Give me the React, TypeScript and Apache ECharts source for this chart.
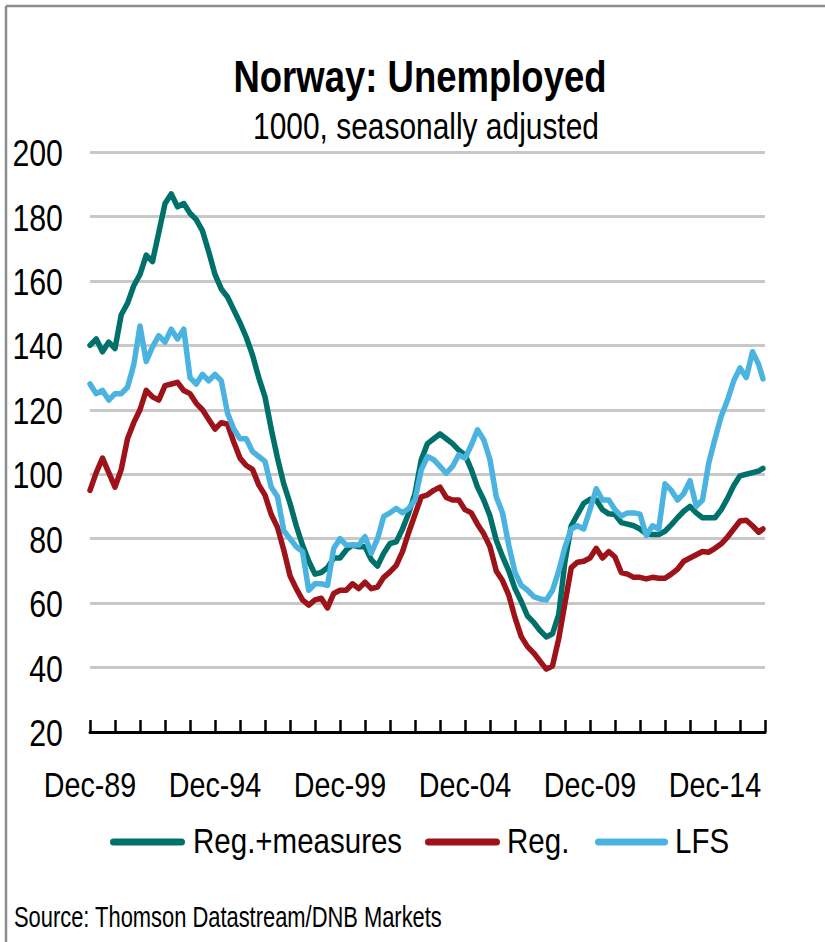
import React, { useEffect, useRef } from "react";
import * as echarts from "echarts";

// Month offsets from Dec-1989
const MONTHS = [
  0, 3, 6, 9, 12, 15, 18, 21, 24, 27, 30, 33,
  36, 39, 42, 45, 48, 51, 54, 57, 60, 63, 66, 69,
  72, 75, 78, 81, 84, 87, 90, 93, 96, 99, 102, 105,
  108, 111, 114, 117, 120, 123, 126, 129, 132, 135, 138, 141,
  144, 147, 150, 153, 156, 159, 162, 165, 168, 171, 174, 177,
  180, 183, 186, 189, 192, 195, 198, 201, 204, 207, 210, 213,
  216, 219, 222, 225, 228, 231, 234, 237, 240, 243, 246, 249,
  252, 255, 258, 261, 264, 267, 270, 273, 276, 279, 282, 285,
  288, 291, 294, 297, 300, 303, 306, 309, 312, 315, 318, 321,
  323,
];

const REG_MEASURES = [
  140, 142, 138, 141, 139, 149.5, 153, 158.5, 162, 168, 166, 175,
  184, 187, 183, 184, 181, 179, 175.5, 169, 162, 157.5, 155, 151,
  147, 142.5, 137, 130, 124, 114, 105, 97, 91, 84, 78, 73,
  69, 69.5, 71, 74, 74, 76.5, 78, 77.5, 77.5, 73.5, 71.5, 75.5,
  78.5, 79, 83, 88, 94, 104.5, 109.5, 111, 112.5, 111, 109.5, 107.5,
  106, 101.5, 96, 92, 87, 79.5, 74.5, 70, 64.5, 60.5, 56, 54,
  51.5, 49.5, 50.5, 56.5, 73, 84, 87.5, 91, 92.2, 92, 89, 87.7,
  87.5, 85, 84.5, 84, 83, 81.5, 81.3, 81.3, 82.3, 84.3, 86.5, 88.5,
  90, 88, 86.5, 86.5, 86.5, 89, 92.5, 96.5, 99.5, 100, 100.5, 101,
  101.8,
];

const REG = [
  95, 100.5, 105, 100.5, 96, 101.5, 111, 116, 120, 126, 124, 123,
  127.5, 128, 128.5, 126, 125, 122, 120, 117, 114, 116, 115.5, 110,
  105, 102.7, 101.5, 96.7, 93.5, 87.5, 83.5, 76.5, 68.5, 64.5, 61, 59.4,
  61, 61.5, 58.5, 63, 64, 64, 66, 64.5, 66.5, 64.5, 65, 68,
  69.7, 71.7, 76, 82, 87.5, 93, 93.6, 95, 96, 92.8, 92, 92,
  89, 88, 84.5, 81.5, 77.5, 70, 67, 62.5, 55.5, 49.6, 46.5, 44.5,
  42, 39.5, 40.5, 49, 60, 71, 72.7, 73, 74, 77, 74, 76,
  74.3, 69.5, 69, 68, 68, 67.5, 68, 67.7, 67.7, 69, 70.5, 73,
  74, 75, 76, 75.8, 77, 78.4, 80.5, 83, 85.5, 85.7, 84, 82,
  83,
];

const LFS = [
  128, 125, 126, 123, 125, 125, 127, 134, 146, 135, 139.5, 143,
  141, 145, 142, 145, 130, 128, 131, 129, 131, 129, 119, 114,
  111, 111, 107, 105.5, 104, 96, 93, 82.5, 80, 77.5, 76, 64,
  66, 66, 65.5, 77, 80, 78, 78, 78, 80.6, 75.5, 80, 86.9,
  88, 89.4, 88, 89.4, 92, 101.4, 105.5, 104.5, 102.4, 100.3, 102.4, 106,
  105, 109, 113.8, 110.7, 104.5, 93, 88, 78, 69.5, 65.5, 64, 62,
  61.3, 61, 64, 70, 77.4, 83, 84, 83, 89, 95.5, 92, 92,
  89, 87, 88, 88, 87.6, 81, 84, 83, 97, 95, 92, 94,
  98, 90, 92, 103.5, 111, 118, 123, 129, 133, 130, 138, 134,
  129.6,
];

const SERIES_NAMES = ["Reg.+measures", "Reg.", "LFS"];
const SERIES_COLORS = ["#00706a", "#9e1219", "#4ab3df"];
const Y_TICKS = [20, 40, 60, 80, 100, 120, 140, 160, 180, 200];
const X_LABEL_MONTHS = [0, 60, 120, 180, 240, 300];
const X_LABELS = ["Dec-89", "Dec-94", "Dec-99", "Dec-04", "Dec-09", "Dec-14"];
const TITLE = "Norway: Unemployed";
const SUBTITLE = "1000, seasonally adjusted";
const SOURCE = "Source: Thomson Datastream/DNB Markets";

const FONT = '"Liberation Sans", Arial, sans-serif';
const NARROW = 0.82;

function zip(vals: number[]) {
  return MONTHS.map((m, i) => [m, vals[i]]);
}

function txt(
  text: string,
  x: number,
  y: number,
  size: number,
  align: string,
  scaleX: number,
  bold = false
) {
  return {
    type: "text",
    x,
    y,
    scaleX,
    style: {
      text,
      fontSize: size,
      fontWeight: bold ? "bold" : "normal",
      fontFamily: FONT,
      fill: "#000",
      textAlign: align,
      textVerticalAlign: "middle",
    },
  };
}

export default function App() {
  const ref = useRef<HTMLDivElement>(null);

  useEffect(() => {
    if (!ref.current) return;
    const chart = echarts.init(ref.current, null, { renderer: "svg" });
    const all = [REG_MEASURES, REG, LFS];
    chart.setOption({
      animation: false,
      backgroundColor: "#ffffff",
      grid: { left: 90, right: 60, top: 152, bottom: 210, containLabel: false },
      xAxis: {
        type: "value",
        min: 0,
        max: 324,
        interval: 12,
        axisLine: { show: true, onZero: false, lineStyle: { color: "#000", width: 3 } },
        axisTick: { show: true, inside: true, length: 12, lineStyle: { color: "#000", width: 2.5 } },
        axisLabel: { show: false },
        splitLine: { show: false },
      },
      yAxis: {
        type: "value",
        min: 20,
        max: 200,
        interval: 20,
        axisLine: { show: false },
        axisTick: { show: false },
        axisLabel: { show: false },
        splitLine: { lineStyle: { color: "#c8c8c8", width: 3 } },
      },
      series: SERIES_NAMES.map((name, i) => ({
        name,
        type: "line",
        data: zip(all[i]),
        showSymbol: false,
        symbol: "none",
        color: SERIES_COLORS[i],
        lineStyle: { color: SERIES_COLORS[i], width: 5.5, cap: "round", join: "round" },
      })),
    });

    const graphics: any[] = [
      { type: "line", shape: { x1: 6, y1: 6, x2: 6, y2: 942 }, style: { stroke: "#8c8c8c", lineWidth: 2.5 } },
      { type: "line", shape: { x1: 6, y1: 6, x2: 825, y2: 6 }, style: { stroke: "#8c8c8c", lineWidth: 2.5 } },
      txt(TITLE, 420, 77, 44.5, "center", NARROW, true),
      txt(SUBTITLE, 426, 126, 36.5, "center", NARROW),
      txt(SOURCE, 14, 917, 30, "left", 0.73),
    ];

    Y_TICKS.forEach((v) => {
      const y = chart.convertToPixel({ yAxisIndex: 0 }, v) as number;
      graphics.push(txt(String(v), 63, y + 1, 37, "right", NARROW));
    });
    X_LABEL_MONTHS.forEach((m, i) => {
      const x = chart.convertToPixel({ xAxisIndex: 0 }, m) as number;
      graphics.push(txt(X_LABELS[i], x, 785, 35, "center", NARROW));
    });

    // legend
    const legendLines = [
      [110, 185, 193],
      [425, 500, 507],
      [595, 668, 675],
    ];
    SERIES_NAMES.forEach((name, i) => {
      const [x1, x2, tx] = legendLines[i];
      graphics.push({
        type: "line",
        shape: { x1: x1 + 3.5, y1: 842, x2: x2 - 3.5, y2: 842 },
        style: { stroke: SERIES_COLORS[i], lineWidth: 7, lineCap: "round" },
      });
      graphics.push(txt(name, tx, 840, 36, "left", NARROW));
    });

    chart.setOption({ graphic: graphics });
    return () => chart.dispose();
  }, []);

  return (
    <div
      ref={ref}
      style={{ position: "absolute", left: 0, top: 0, width: 825, height: 942 }}
    />
  );
}
